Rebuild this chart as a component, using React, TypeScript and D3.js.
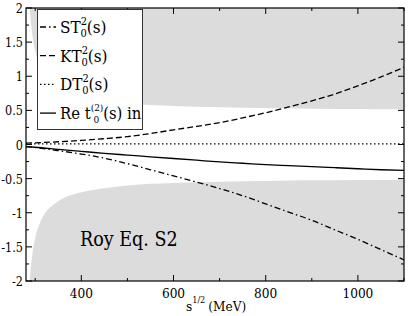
import React from 'react'
import * as d3 from 'd3'

// sqrt(s) samples in MeV
const energies = [280, 300, 350, 400, 450, 500, 550, 600, 650, 700, 750, 800, 850, 900, 950, 1000, 1050, 1100]
const reT = [-0.03, -0.04, -0.07, -0.1, -0.13, -0.155, -0.18, -0.205, -0.23, -0.255, -0.275, -0.295, -0.31, -0.325, -0.34, -0.355, -0.37, -0.38]
const sT = [-0.03, -0.045, -0.09, -0.14, -0.2, -0.28, -0.37, -0.46, -0.55, -0.645, -0.75, -0.87, -0.99, -1.11, -1.25, -1.39, -1.54, -1.69]
const kT = [0.02, 0.025, 0.04, 0.06, 0.085, 0.115, 0.16, 0.215, 0.265, 0.32, 0.39, 0.465, 0.55, 0.64, 0.74, 0.86, 0.99, 1.13]
const dT = [0.01, 0.01, 0.01, 0.01, 0.01, 0.01, 0.01, 0.01, 0.01, 0.01, 0.01, 0.01, 0.01, 0.01, 0.01, 0.01, 0.01, 0.01]

// unitarity bound (gray band edge)
const boundE = [288, 290, 295, 300, 310, 320, 340, 360, 400, 450, 500, 600, 700, 800, 900, 1000, 1100]
const boundV = [2.0, 1.84, 1.55, 1.37, 1.15, 1.02, 0.88, 0.79, 0.7, 0.64, 0.6, 0.565, 0.545, 0.535, 0.525, 0.52, 0.515]

const xMajor = [400, 600, 800, 1000]
const xMinor = [300, 500, 700, 900, 1100]
const yMajor = [-2, -1.5, -1, -0.5, 0, 0.5, 1, 1.5, 2]
const yMinor = [-1.75, -1.25, -0.75, -0.25, 0.25, 0.75, 1.25, 1.75]

const W = 409, H = 316
const L = 26, R = 404, T = 8, B = 281
const FONT = "'DejaVu Serif Condensed', 'DejaVu Serif', serif"

export default function App() {
  const x = d3.scaleLinear().domain([280, 1100]).range([L, R])
  const y = d3.scaleLinear().domain([-2, 2]).range([B, T])

  const line = d3.line<number>()
    .x((_, i) => x(energies[i]))
    .y(d => y(d))
    .curve(d3.curveMonotoneX)

  const upper = d3.area<number>()
    .x((_, i) => x(boundE[i]))
    .y0(y(2))
    .y1(d => y(d))
    .curve(d3.curveMonotoneX)
  const lower = d3.area<number>()
    .x((_, i) => x(boundE[i]))
    .y0(y(-2))
    .y1(d => y(-d))
    .curve(d3.curveMonotoneX)

  const series = [
    { data: sT, dash: '6,3,1.5,3' },
    { data: kT, dash: '6,3' },
    { data: dT, dash: '1.5,2.5' },
    { data: reT, dash: null },
  ]

  const rowBase = (i: number) => 33 + i * 28.7

  return (
    <svg width={W} height={H} style={{ position: 'absolute', left: 0, top: 0, background: '#fff', fontFamily: FONT }}>
      <defs>
        <clipPath id="plot">
          <rect x={L} y={T} width={R - L} height={B - T} />
        </clipPath>
      </defs>
      <g clipPath="url(#plot)">
        <path d={upper(boundV) || ''} fill="#dcdcdc" />
        <path d={lower(boundV) || ''} fill="#dcdcdc" />
        {series.map((s, i) => (
          <path key={i} d={line(s.data) || ''} fill="none" stroke="#000" strokeWidth={1.3}
            strokeDasharray={s.dash || undefined} />
        ))}
      </g>

      {/* ticks */}
      {xMajor.map(v => (
        <g key={'xM' + v}>
          <line x1={x(v)} x2={x(v)} y1={B} y2={B - 6} stroke="#000" />
          <line x1={x(v)} x2={x(v)} y1={T} y2={T + 6} stroke="#000" />
          <text x={x(v)} y={B + 17} fontSize={13.5} textAnchor="middle">{v}</text>
        </g>
      ))}
      {xMinor.map(v => (
        <g key={'xm' + v}>
          <line x1={x(v)} x2={x(v)} y1={B} y2={B - 3} stroke="#000" />
          <line x1={x(v)} x2={x(v)} y1={T} y2={T + 3} stroke="#000" />
        </g>
      ))}
      {yMajor.map(v => (
        <g key={'yM' + v}>
          <line x1={L} x2={L + 6} y1={y(v)} y2={y(v)} stroke="#000" />
          <line x1={R} x2={R - 6} y1={y(v)} y2={y(v)} stroke="#000" />
          <text x={L - 3} y={y(v) + 5} fontSize={12.5} textAnchor="end">{v}</text>
        </g>
      ))}
      {yMinor.map(v => (
        <g key={'ym' + v}>
          <line x1={L} x2={L + 3} y1={y(v)} y2={y(v)} stroke="#000" />
          <line x1={R} x2={R - 3} y1={y(v)} y2={y(v)} stroke="#000" />
        </g>
      ))}
      <rect x={L} y={T} width={R - L} height={B - T} fill="none" stroke="#000" strokeWidth={1.2} />

      {/* axis title */}
      <text x={186} y={311} fontSize={13.5}>
        <tspan>s</tspan>
        <tspan dy={-8} fontSize={9}>1/2</tspan>
        <tspan dy={8} dx={3}>(MeV)</tspan>
      </text>

      {/* legend */}
      <rect x={37.5} y={9.5} width={105} height={120} fill="#fff" stroke="#333" strokeWidth={1} />
      {series.map((s, i) => (
        <line key={'lg' + i} x1={40} x2={56} y1={rowBase(i) - 6} y2={rowBase(i) - 6} stroke="#000" strokeWidth={1.3}
          strokeDasharray={s.dash || undefined} />
      ))}
      {['ST', 'KT', 'DT'].map((n, i) => (
        <text key={n} x={60} y={rowBase(i)} fontSize={17}>
          <tspan>{n}</tspan>
          <tspan dy={-8} fontSize={11}>2</tspan>
          <tspan dx={-6.5} dy={12} fontSize={11}>0</tspan>
          <tspan dy={-4}>(s)</tspan>
        </text>
      ))}
      <text x={60} y={rowBase(3)} fontSize={16.5}>
        <tspan>Re t</tspan>
        <tspan dy={-8} fontSize={10}>(2)</tspan>
        <tspan dx={-10} dy={12} fontSize={10}>0</tspan>
        <tspan dx={4} dy={-4}>(s) in</tspan>
      </text>

      <text x={80} y={246} fontSize={19.5}>Roy Eq. S2</text>
    </svg>
  )
}
